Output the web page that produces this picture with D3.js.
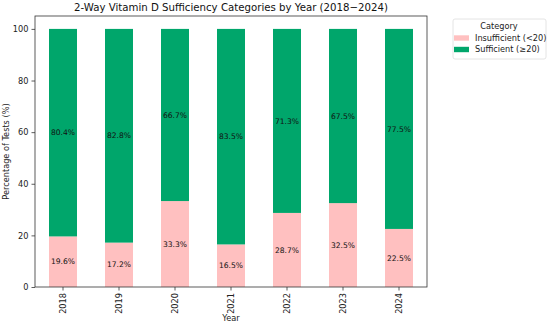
<!DOCTYPE html>
<html>
<head>
<meta charset="utf-8">
<script src="https://cdn.jsdelivr.net/npm/d3@7"></script>
<style>
  body { margin: 0; background: #fff; }
  svg { font-family: "DejaVu Sans", sans-serif; }
</style>
</head>
<body>
<svg id="chart" width="550" height="325"></svg>
<script>
const years = ["2018", "2019", "2020", "2021", "2022", "2023", "2024"]
const insufficient = [19.6, 17.2, 33.3, 16.5, 28.7, 32.5, 22.5]
const sufficient = [80.4, 82.8, 66.7, 83.5, 71.3, 67.5, 77.5]
const categories = ["Insufficient (<20)", "Sufficient (\u226520)"]
const colours = ["#ffc0c0", "#00a66b"]
const yTicks = [0, 20, 40, 60, 80, 100]

const margin = { left: 35, right: 427, top: 16, bottom: 287 }
const svg = d3.select("#chart")
const fs = 8.2

const x = d3.scaleBand().domain(years)
    .range([margin.left, margin.right])
    .paddingInner(0.5).paddingOuter(0.25)
const y = d3.scaleLinear().domain([0, 105]).range([margin.bottom, margin.top])

const rows = years.map((yr, i) => ({ year: yr, 0: insufficient[i], 1: sufficient[i] }))
const stacked = d3.stack().keys([0, 1])(rows)

// bars
svg.append("g")
    .selectAll("g")
    .data(stacked)
    .join("g")
    .attr("fill", (d, i) => colours[i])
    .selectAll("rect")
    .data((d) => d)
    .join("rect")
    .attr("x", (d) => x(d.data.year))
    .attr("width", x.bandwidth())
    .attr("y", (d) => y(d[1]))
    .attr("height", (d) => y(d[0]) - y(d[1]))

// segment labels
svg.append("g")
    .selectAll("g")
    .data(stacked)
    .join("g")
    .selectAll("text")
    .data((d) => d)
    .join("text")
    .attr("x", (d) => x(d.data.year) + x.bandwidth() / 2)
    .attr("y", (d) => y((d[0] + d[1]) / 2))
    .attr("dy", "0.35em")
    .attr("text-anchor", "middle")
    .attr("font-size", 7.6)
    .attr("fill", "#111")
    .text((d) => (d[1] - d[0]).toFixed(1) + "%")

// axes
const yAxis = svg.append("g")
    .attr("transform", `translate(${margin.left},0)`)
    .call(d3.axisLeft(y).tickValues(yTicks).tickSize(3.5).tickPadding(3))
const xAxis = svg.append("g")
    .attr("transform", `translate(0,${margin.bottom})`)
    .call(d3.axisBottom(x).tickSize(3.5).tickPadding(3))
xAxis.selectAll("text")
    .attr("transform", "rotate(-90)")
    .attr("text-anchor", "end")
    .attr("x", -6)
    .attr("y", 0)
    .attr("dy", "0.35em")
for (const ax of [yAxis, xAxis]) {
    ax.select(".domain").remove()
    ax.selectAll("text").attr("font-size", fs).attr("fill", "#222").attr("font-family", "DejaVu Sans")
    ax.selectAll("line").attr("stroke", "#333").attr("stroke-width", 0.8)
}

// frame
svg.append("rect")
    .attr("x", margin.left).attr("y", margin.top)
    .attr("width", margin.right - margin.left)
    .attr("height", margin.bottom - margin.top)
    .attr("fill", "none").attr("stroke", "#333").attr("stroke-width", 0.8)

// titles
svg.append("text")
    .attr("x", (margin.left + margin.right) / 2).attr("y", 11)
    .attr("text-anchor", "middle").attr("font-size", 10.2).attr("fill", "#111")
    .text("2-Way Vitamin D Sufficiency Categories by Year (2018\u22122024)")
svg.append("text")
    .attr("x", (margin.left + margin.right) / 2).attr("y", 321)
    .attr("text-anchor", "middle").attr("font-size", fs).attr("fill", "#222")
    .text("Year")
svg.append("text")
    .attr("transform", `translate(9,${(margin.top + margin.bottom) / 2}) rotate(-90)`)
    .attr("text-anchor", "middle").attr("font-size", fs).attr("fill", "#222")
    .text("Percentage of Tests (%)")

// legend
const legend = svg.append("g")
legend.append("rect")
    .attr("x", 453).attr("y", 19).attr("width", 93).attr("height", 40)
    .attr("rx", 2).attr("fill", "#fff").attr("stroke", "#ddd").attr("stroke-width", 0.8)
legend.append("text")
    .attr("x", 499).attr("y", 26).attr("dy", "0.35em")
    .attr("text-anchor", "middle").attr("font-size", fs).attr("fill", "#222")
    .text("Category")
const entries = legend.selectAll("g.entry")
    .data(categories)
    .join("g")
    .attr("class", "entry")
    .attr("transform", (d, i) => `translate(454,${38 + i * 11.5})`)
entries.append("rect")
    .attr("x", 0).attr("y", -2.7).attr("width", 15).attr("height", 5.4)
    .attr("fill", (d, i) => colours[i])
entries.append("text")
    .attr("x", 21).attr("dy", "0.35em")
    .attr("font-size", fs).attr("fill", "#222")
    .text((d) => d)
</script>
</body>
</html>
